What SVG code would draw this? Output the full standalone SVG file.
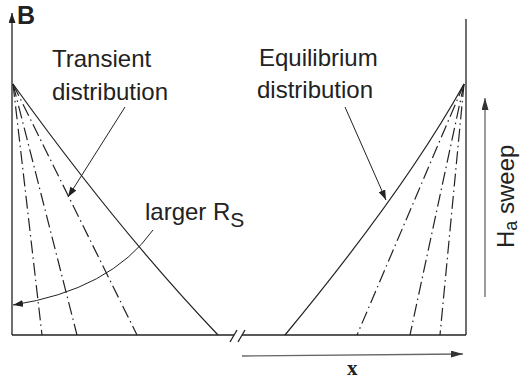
<svg xmlns="http://www.w3.org/2000/svg" width="524" height="381" viewBox="0 0 524 381">
<defs>
<marker id="ah" viewBox="0 0 10 7" refX="10" refY="3.5" markerWidth="10" markerHeight="7" markerUnits="userSpaceOnUse" orient="auto">
<path d="M0,0 L10,3.5 L0,7 z" fill="#222"/>
</marker>
<marker id="ahg" viewBox="0 0 12 7" refX="12" refY="3.5" markerWidth="12" markerHeight="7" markerUnits="userSpaceOnUse" orient="auto">
<path d="M0,0 L12,3.5 L0,7 z" fill="#333"/>
</marker>
<style>
.ax{stroke:#222;stroke-width:1.3;fill:none}
.cv{stroke:#222;stroke-width:1.2;fill:none}
.dd{stroke:#222;stroke-width:1.2;fill:none;stroke-dasharray:13 4 1.5 4}
.ptr{stroke:#222;stroke-width:1;fill:none}
.gr{stroke:#666;stroke-width:1.3;fill:none}
.lbl{font-family:"Liberation Sans",Arial,sans-serif;font-size:24px;fill:#222}
</style>
</defs>
<g id="axes">
<line class="ax" x1="12" y1="335" x2="12" y2="13" marker-end="url(#ah)"/>
<line class="ax" x1="466" y1="19" x2="466" y2="335"/>
<line class="ax" x1="12" y1="335" x2="234" y2="335"/>
<line class="ax" x1="242" y1="335" x2="466" y2="335"/>
<line class="ax" x1="230" y1="342" x2="237" y2="330"/>
<line class="ax" x1="238" y1="342" x2="245" y2="330"/>
<text x="17" y="24" style="font-family:'Liberation Sans',Arial,sans-serif;font-size:25px;font-weight:bold;fill:#222">B</text>
</g>
<g id="transient">
<path class="cv" d="M13,84 Q118,230 218,335"/>
<line class="dd" x1="13" y1="84" x2="42" y2="335"/>
<line class="dd" x1="13" y1="84" x2="77" y2="335"/>
<line class="dd" x1="13" y1="84" x2="137" y2="335"/>
</g>
<g id="equilibrium">
<path class="cv" d="M464,84 Q405,190 285,335"/>
<line class="dd" x1="464" y1="84" x2="440" y2="335"/>
<line class="dd" x1="464" y1="84" x2="410" y2="335"/>
<line class="dd" x1="464" y1="84" x2="357" y2="335"/>
</g>
<g id="labels">
<text class="lbl" x="52" y="67">Transient</text>
<text class="lbl" x="52" y="100">distribution</text>
<text class="lbl" x="259" y="66">Equilibrium</text>
<text class="lbl" x="257" y="98">distribution</text>
<text class="lbl" x="145" y="220">larger R<tspan style="font-size:21px" dy="7">S</tspan></text>
<text x="347" y="375" style="font-family:'Liberation Serif','Times New Roman',serif;font-size:21px;font-weight:bold;fill:#222">x</text>
<text class="lbl" transform="translate(514,248) rotate(-90)">H<tspan style="font-size:18px" dy="3">a</tspan><tspan dy="-3"> sweep</tspan></text>
</g>
<g id="connectors">
<line class="ptr" x1="125" y1="107" x2="68" y2="197" marker-end="url(#ah)"/>
<line class="ptr" x1="345" y1="107" x2="386" y2="200" marker-end="url(#ah)"/>
<path class="ptr" d="M153,230 Q110,290 13,305" marker-end="url(#ah)"/>
<line class="gr" x1="242" y1="356" x2="463" y2="354" marker-end="url(#ahg)"/>
<line class="gr" x1="485" y1="297" x2="485" y2="98" marker-end="url(#ahg)"/>
</g>
</svg>
